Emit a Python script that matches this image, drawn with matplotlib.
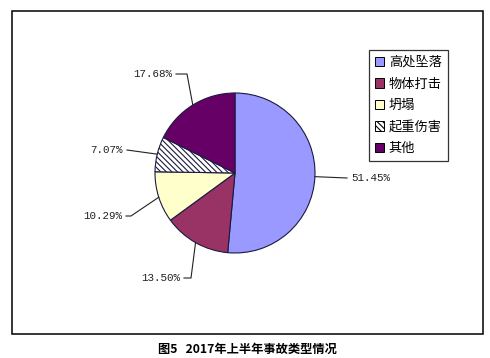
import numpy as np
import matplotlib
matplotlib.use("Agg")
import matplotlib.pyplot as plt
from matplotlib.patches import Rectangle, Patch

plt.rcParams['font.family'] = ['Noto Sans CJK SC', 'DejaVu Sans']
plt.rcParams['hatch.linewidth'] = 0.8

categories = ['高处坠落', '物体打击', '坍塌', '起重伤害', '其他']
values = [51.45, 13.50, 10.29, 7.07, 17.68]
labels = ['51.45%', '13.50%', '10.29%', '7.07%', '17.68%']
colors = ['#9999FF', '#993366', '#FFFFCC', '#FFFFFF', '#660066']
hatches = [None, None, None, '\\\\\\\\\\\\', None]
caption = '图5   2017年上半年事故类型情况'

W, H = 490, 358
fig = plt.figure(figsize=(W / 100, H / 100), dpi=100)
ax = fig.add_axes([0, 0, 1, 1])

def py(y):
    return H - y

cx, cy, r = 235, py(173), 80
wedges, _ = ax.pie(values, startangle=90, counterclock=False, colors=colors,
                   center=(cx, cy), radius=r, frame=True,
                   wedgeprops=dict(edgecolor='#1a1a40', linewidth=0.8))
for w, h in zip(wedges, hatches):
    if h:
        w.set_hatch(h)
ax.set_xlim(0, W)
ax.set_ylim(0, H)
ax.set_aspect('auto')
ax.axis('off')

# label layout: (elbow point, end point, text pos, ha) in pixel coords
layout = [
    (None, (347, 178), (351, 178), 'left'),
    ((191, 278), (184, 278), (180, 278), 'right'),
    ((131, 216), (126, 216), (122, 216), 'right'),
    (None, (127, 150), (123, 150), 'right'),
    ((187, 74), (176, 74), (172, 74), 'right'),
]
for w, lab, (elb, end, tp, ha) in zip(wedges, labels, layout):
    ang = np.deg2rad((w.theta1 + w.theta2) / 2)
    ex, ey = cx + r * np.cos(ang), cy + r * np.sin(ang)
    xs, ys = [ex], [ey]
    if elb:
        xs.append(elb[0]); ys.append(py(elb[1]))
    xs.append(end[0]); ys.append(py(end[1]))
    ax.plot(xs, ys, color='#222222', lw=0.8)
    ax.text(tp[0], py(tp[1]), lab, ha=ha, va='center', fontsize=7.8,
            family='Liberation Mono', color='#222222')

# outer frame
ax.add_patch(Rectangle((12, py(334)), 471, 323, fill=False, edgecolor='black', lw=1.1))

handles = [Patch(facecolor=c, edgecolor='black', hatch=h, linewidth=0.7)
           for c, h in zip(colors, hatches)]
leg = ax.legend(handles, categories, loc='upper left',
                bbox_to_anchor=(369 / W, 1 - 50 / H), fontsize=9.5,
                frameon=True, fancybox=False, edgecolor='black',
                handlelength=0.7, handleheight=0.7, handletextpad=0.35,
                labelspacing=0.65, borderpad=0.45, borderaxespad=0)
leg.get_frame().set_linewidth(0.9)

ax.text(247, py(349), caption, ha='center', va='center', fontsize=8.8,
        fontweight='bold', color='black')

fig.savefig('out.png', dpi=100, facecolor='white')
